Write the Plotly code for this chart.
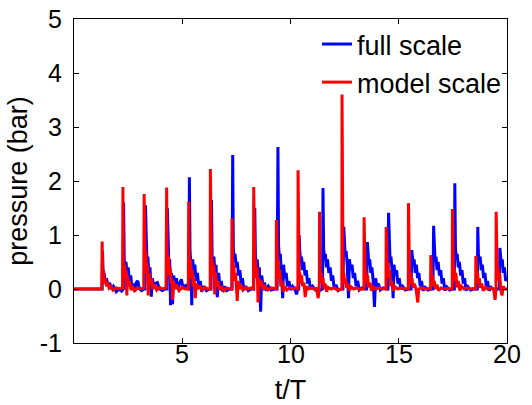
import plotly.graph_objects as go

# ---- data (t/T, pressure in bar) ----
full_t = [0.00, 1.30, 1.32, 1.35, 1.39, 1.44, 1.50, 1.57, 1.64, 1.72, 1.82, 1.95, 2.08, 2.20, 2.28,
          2.29, 2.32, 2.36, 2.40, 2.45, 2.50, 2.56, 2.62, 2.68, 2.74, 2.80, 2.88, 2.95, 3.02, 3.12, 3.22, 3.28,
          3.30, 3.33, 3.37, 3.41, 3.46, 3.51, 3.57, 3.62, 3.68, 3.75, 3.85, 3.95, 4.08, 4.20, 4.29,
          4.31, 4.34, 4.38, 4.42, 4.46, 4.50, 4.55, 4.60, 4.66, 4.73, 4.80, 4.88, 4.96, 5.05, 5.18, 5.28, 5.31,
          5.33, 5.36, 5.40, 5.44, 5.48, 5.53, 5.58, 5.64, 5.70, 5.76, 5.83, 5.90, 6.00, 6.12, 6.25, 6.33,
          6.35, 6.38, 6.42, 6.46, 6.51, 6.56, 6.62, 6.68, 6.74, 6.80, 6.88, 6.95, 7.05, 7.18, 7.30,
          7.33, 7.36, 7.40, 7.44, 7.49, 7.54, 7.60, 7.66, 7.72, 7.78, 7.85, 7.93, 8.05, 8.18, 8.30,
          8.35, 8.38, 8.42, 8.46, 8.51, 8.56, 8.62, 8.67, 8.73, 8.80, 8.88, 8.98, 9.10, 9.25, 9.38,
          9.42, 9.45, 9.49, 9.53, 9.58, 9.64, 9.68, 9.74, 9.80, 9.86, 9.93, 10.00, 10.10, 10.22, 10.28, 10.34, 10.38,
          10.40, 10.43, 10.47, 10.51, 10.56, 10.61, 10.67, 10.73, 10.79, 10.85, 10.92, 11.02, 11.15, 11.30, 11.40, 11.48,
          11.50, 11.53, 11.57, 11.61, 11.66, 11.71, 11.77, 11.83, 11.89, 11.95, 12.02, 12.10, 12.20, 12.32, 12.42,
          12.46, 12.49, 12.53, 12.57, 12.62, 12.68, 12.72, 12.78, 12.84, 12.90, 12.96, 13.03, 13.10, 13.18, 13.30, 13.42, 13.52,
          13.55, 13.58, 13.62, 13.66, 13.71, 13.76, 13.82, 13.88, 13.93, 13.99, 14.06, 14.15, 14.28, 14.40, 14.50,
          14.53, 14.56, 14.60, 14.64, 14.69, 14.74, 14.78, 14.84, 14.90, 14.96, 15.02, 15.09, 15.18, 15.30, 15.45, 15.57,
          15.60, 15.63, 15.67, 15.71, 15.76, 15.81, 15.87, 15.93, 15.99, 16.05, 16.12, 16.22, 16.35, 16.50, 16.58,
          16.61, 16.64, 16.68, 16.72, 16.77, 16.82, 16.88, 16.94, 17.00, 17.06, 17.13, 17.22, 17.35, 17.48, 17.57,
          17.59, 17.62, 17.66, 17.70, 17.75, 17.80, 17.86, 17.92, 17.98, 18.04, 18.11, 18.20, 18.32, 18.45, 18.63,
          18.65, 18.68, 18.72, 18.76, 18.81, 18.86, 18.92, 18.98, 19.04, 19.10, 19.17, 19.27, 19.40, 19.55, 19.65,
          19.67, 19.70, 19.74, 19.78, 19.83, 19.88, 19.94, 20.00]
full_p = [0.00, 0.00, 0.70, 0.20, 0.30, 0.12, 0.20, 0.05, 0.12, 0.00, 0.05, -0.05, 0.00, -0.04, 0.00,
          1.60, 0.55, 0.40, 0.50, 0.30, 0.40, 0.15, 0.25, 0.00, 0.10, -0.05, 0.12, 0.15, 0.00, -0.03, 0.00, 0.00,
          1.55, 0.70, 0.50, 0.60, 0.30, 0.40, -0.14, 0.20, 0.05, 0.10, 0.12, 0.00, -0.03, 0.00, 0.00,
          1.50, 0.72, 0.50, 0.55, -0.30, 0.30, -0.28, 0.25, 0.10, 0.20, 0.00, 0.10, 0.18, 0.00, 0.08, 0.00, 0.00,
          2.07, 0.70, 0.45, -0.30, 0.55, 0.35, 0.45, 0.15, 0.30, 0.05, 0.15, -0.05, 0.05, -0.03, 0.00, 0.00,
          1.65, 0.60, 0.50, 0.60, 0.30, 0.45, -0.15, 0.30, 0.05, 0.15, -0.05, 0.05, -0.03, 0.00, 0.00,
          2.48, 0.75, 0.55, 0.65, 0.40, 0.50, 0.25, 0.35, 0.10, 0.20, -0.02, 0.05, -0.03, 0.00, 0.00,
          1.50, 0.60, 0.45, 0.55, 0.30, 0.40, -0.42, 0.25, 0.05, 0.12, -0.03, 0.05, -0.02, 0.00, 0.00,
          2.63, 0.80, 0.55, 0.65, 0.35, -0.17, 0.45, 0.20, 0.30, 0.05, 0.15, -0.02, 0.05, -0.02, -0.10, 0.00, 0.00,
          1.00, 0.70, 0.50, 0.60, 0.35, 0.50, 0.25, 0.35, 0.10, 0.20, 0.00, 0.05, -0.02, 0.00, -0.02, 0.00,
          1.87, 0.75, 0.55, 0.65, 0.40, 0.55, 0.30, 0.40, 0.15, 0.25, 0.00, 0.08, -0.03, 0.00, 0.00,
          1.15, 0.80, 0.60, 0.70, 0.45, -0.17, 0.55, 0.35, 0.45, 0.20, 0.30, 0.05, 0.15, -0.02, 0.02, 0.00, 0.00,
          0.87, 0.60, 0.45, 0.55, 0.30, 0.40, 0.15, -0.33, 0.20, 0.05, 0.10, -0.02, 0.02, 0.00, 0.00,
          1.41, 0.65, 0.50, 0.60, 0.35, -0.17, 0.45, 0.25, 0.35, 0.10, 0.20, 0.00, 0.05, -0.02, 0.00, 0.00,
          0.72, 0.60, 0.45, 0.55, 0.30, 0.45, 0.20, 0.30, 0.05, 0.15, -0.03, 0.03, -0.02, 0.00, 0.00,
          1.17, 0.70, 0.50, 0.60, 0.35, 0.50, 0.25, 0.35, 0.10, 0.20, -0.03, 0.04, -0.02, 0.00, 0.00,
          1.96, 0.75, 0.55, 0.65, 0.40, 0.50, 0.25, 0.35, 0.10, 0.20, -0.03, 0.04, -0.02, 0.00, 0.00,
          1.15, 0.65, 0.50, 0.60, 0.35, 0.45, 0.20, 0.30, 0.05, 0.15, -0.03, 0.03, -0.02, 0.00, 0.00,
          0.76, 0.60, 0.45, 0.55, 0.30, 0.40, 0.15, 0.20]

model_t = [0.00, 1.28, 1.30, 1.33, 1.36, 1.40, 1.44, 1.50, 1.56, 1.62, 1.70, 1.80, 1.95, 2.10, 2.24,
           2.26, 2.28, 2.31, 2.34, 2.37, 2.40, 2.44, 2.47, 2.52, 2.57, 2.63, 2.70, 2.80, 2.95, 3.10, 3.22,
           3.24, 3.26, 3.29, 3.32, 3.35, 3.39, 3.43, 3.47, 3.52, 3.58, 3.64, 3.72, 3.82, 3.95, 4.10, 4.25,
           4.28, 4.30, 4.33, 4.36, 4.40, 4.44, 4.48, 4.52, 4.55, 4.60, 4.66, 4.74, 4.85, 5.00, 5.15, 5.28,
           5.30, 5.32, 5.35, 5.38, 5.42, 5.46, 5.50, 5.55, 5.60, 5.65, 5.72, 5.80, 5.92, 6.05, 6.18, 6.29,
           6.30, 6.32, 6.35, 6.38, 6.42, 6.46, 6.50, 6.54, 6.59, 6.65, 6.72, 6.80, 6.92, 7.05, 7.18, 7.29,
           7.30, 7.32, 7.35, 7.38, 7.42, 7.46, 7.50, 7.54, 7.58, 7.64, 7.70, 7.80, 7.92, 8.05, 8.18, 8.29,
           8.30, 8.32, 8.35, 8.38, 8.42, 8.46, 8.50, 8.54, 8.60, 8.66, 8.73, 8.82, 8.95, 9.10, 9.25, 9.34,
           9.35, 9.37, 9.40, 9.43, 9.47, 9.51, 9.55, 9.60, 9.66, 9.73, 9.83, 9.96, 10.10, 10.23, 10.34,
           10.35, 10.37, 10.40, 10.43, 10.47, 10.51, 10.56, 10.62, 10.68, 10.74, 10.82, 10.95, 11.08, 11.20, 11.28, 11.33,
           11.34, 11.36, 11.39, 11.42, 11.46, 11.50, 11.55, 11.60, 11.67, 11.74, 11.87, 12.02, 12.17, 12.29, 12.37,
           12.38, 12.40, 12.43, 12.46, 12.50, 12.54, 12.59, 12.65, 12.72, 12.80, 12.92, 13.05, 13.20, 13.32, 13.39,
           13.40, 13.42, 13.45, 13.48, 13.52, 13.56, 13.61, 13.67, 13.74, 13.82, 13.95, 14.10, 14.25, 14.35, 14.41,
           14.42, 14.44, 14.47, 14.50, 14.54, 14.58, 14.63, 14.68, 14.75, 14.83, 14.95, 15.10, 15.25, 15.38, 15.44,
           15.45, 15.47, 15.50, 15.53, 15.57, 15.61, 15.66, 15.72, 15.80, 15.88, 15.92, 16.05, 16.20, 16.35, 16.47,
           16.48, 16.50, 16.53, 16.56, 16.60, 16.64, 16.70, 16.76, 16.84, 16.95, 17.10, 17.25, 17.40, 17.47,
           17.48, 17.50, 17.53, 17.56, 17.60, 17.64, 17.69, 17.75, 17.82, 17.90, 18.02, 18.15, 18.30, 18.45, 18.55,
           18.56, 18.58, 18.61, 18.64, 18.68, 18.72, 18.77, 18.83, 18.90, 19.00, 19.12, 19.25, 19.38, 19.45, 19.49,
           19.50, 19.52, 19.55, 19.58, 19.62, 19.66, 19.71, 19.77, 19.82, 19.90, 20.00]
model_p = [0.00, 0.00, 0.88, 0.15, 0.35, 0.10, 0.20, 0.05, 0.12, 0.02, 0.05, -0.02, 0.02, 0.00, 0.02,
           1.89, 0.50, 0.30, 0.45, 0.20, 0.35, -0.12, 0.25, 0.05, 0.15, -0.02, 0.05, -0.03, 0.02, 0.00, 0.02,
           1.76, 0.90, 0.55, 0.70, 0.30, 0.45, -0.12, 0.30, 0.10, 0.20, 0.00, 0.08, -0.02, 0.03, 0.00, 0.02,
           1.88, 0.75, 0.45, 0.60, 0.25, 0.40, 0.10, 0.20, -0.20, 0.15, 0.00, 0.08, -0.03, 0.03, 0.00, 0.00,
           1.61, 0.60, 0.40, 0.55, 0.20, 0.35, 0.05, 0.20, -0.17, 0.10, 0.00, 0.06, -0.02, 0.03, 0.00, 0.00,
           2.22, 0.60, 0.35, 0.55, 0.25, 0.45, -0.10, 0.30, 0.05, 0.15, -0.02, 0.05, -0.03, 0.02, 0.00, 0.00,
           1.31, 0.50, 0.30, 0.45, 0.15, 0.30, 0.05, -0.22, 0.15, 0.00, 0.08, -0.02, 0.03, 0.00, 0.02, 0.00,
           1.89, 0.65, 0.40, 0.55, 0.20, 0.40, -0.25, 0.20, 0.05, 0.15, -0.02, 0.05, -0.02, 0.02, 0.00, 0.00,
           1.28, 0.75, 0.40, 0.55, 0.20, 0.35, 0.05, 0.15, -0.05, 0.05, -0.02, 0.02, 0.00, 0.02, 0.00,
           2.20, 0.35, 0.20, 0.30, 0.10, 0.25, 0.05, 0.12, -0.15, 0.05, 0.00, 0.02, 0.00, 0.01, -0.17, 0.00,
           1.43, 0.35, 0.20, 0.30, 0.10, 0.20, 0.00, 0.10, -0.05, 0.03, 0.00, 0.02, -0.02, 0.00, 0.00,
           3.60, 0.35, 0.15, 0.30, 0.10, 0.20, 0.02, 0.10, -0.03, 0.04, 0.00, 0.02, -0.01, 0.00, 0.00,
           1.33, 0.40, 0.20, 0.35, 0.12, 0.25, 0.03, 0.12, -0.03, 0.04, 0.00, 0.02, 0.00, 0.01, 0.00,
           1.15, 0.55, 0.35, 0.50, 0.20, 0.35, 0.05, 0.15, -0.03, 0.04, 0.00, 0.02, 0.00, 0.01, 0.00,
           1.59, 0.35, 0.20, 0.30, 0.10, 0.20, 0.02, 0.10, 0.00, -0.25, 0.00, 0.02, 0.00, 0.01, 0.00,
           0.63, 0.30, 0.15, 0.25, 0.05, 0.15, 0.00, 0.08, -0.03, 0.02, 0.00, 0.01, 0.00, 0.00,
           1.48, 0.45, 0.25, 0.40, 0.15, 0.30, 0.03, 0.15, -0.03, 0.05, 0.00, 0.02, 0.00, 0.01, 0.00,
           0.61, 0.35, 0.20, 0.30, 0.10, 0.20, 0.02, 0.10, -0.03, 0.03, 0.00, 0.02, 0.00, -0.20, 0.00,
           1.43, 0.45, 0.25, 0.40, 0.15, 0.30, 0.00, -0.12, 0.05, 0.00, 0.00]

series_names = ["full scale", "model scale"]
series_colors = ["#0000FF", "#FF0000"]
x_ticks = [5, 10, 15, 20]
y_ticks = [-1, 0, 1, 2, 3, 4, 5]

FONT = "Liberation Sans, Arial, Helvetica, sans-serif"

fig = go.Figure()
fig.add_trace(go.Scatter(x=full_t, y=full_p, mode="lines", name=series_names[0],
                         line=dict(color=series_colors[0], width=3)))
fig.add_trace(go.Scatter(x=model_t, y=model_p, mode="lines", name=series_names[1],
                         line=dict(color=series_colors[1], width=3)))

axis_common = dict(showline=True, mirror="ticks", linecolor="black", linewidth=1,
                   ticks="inside", ticklen=5, tickcolor="black", tickwidth=1,
                   showgrid=False, zeroline=False, automargin=False,
                   tickfont=dict(family=FONT, size=25, color="black"))

# x tick labels are placed as annotations just below the axis (close to the frame, as in the reference)
fig.update_xaxes(range=[0, 20], tickvals=x_ticks, showticklabels=False,
                 title=dict(text="t/T", font=dict(family=FONT, size=27, color="black"), standoff=39),
                 **axis_common)
fig.update_yaxes(range=[-1, 5], tickvals=y_ticks, ticktext=[str(v) for v in y_ticks],
                 ticklabelstandoff=6,
                 title=dict(text="pressure (bar)", font=dict(family=FONT, size=27, color="black"), standoff=4),
                 **axis_common)

annotations = [dict(x=v, xref="x", y=0, yref="paper", text=str(v), showarrow=False,
                    xanchor="center", yanchor="middle", yshift=-11,
                    font=dict(family=FONT, size=25, color="black"))
               for v in x_ticks]

fig.update_layout(
    width=532, height=405,
    margin=dict(l=74, r=25, t=19, b=62),
    paper_bgcolor="white", plot_bgcolor="white",
    showlegend=True,
    legend=dict(x=1.0, y=0.997, xanchor="right", yanchor="top",
                bgcolor="rgba(0,0,0,0)", borderwidth=0,
                font=dict(family=FONT, size=27, color="black")),
    annotations=annotations,
)

fig.write_html("out.html", config={"displayModeBar": False},
               post_script="document.body.style.margin='0px';")
